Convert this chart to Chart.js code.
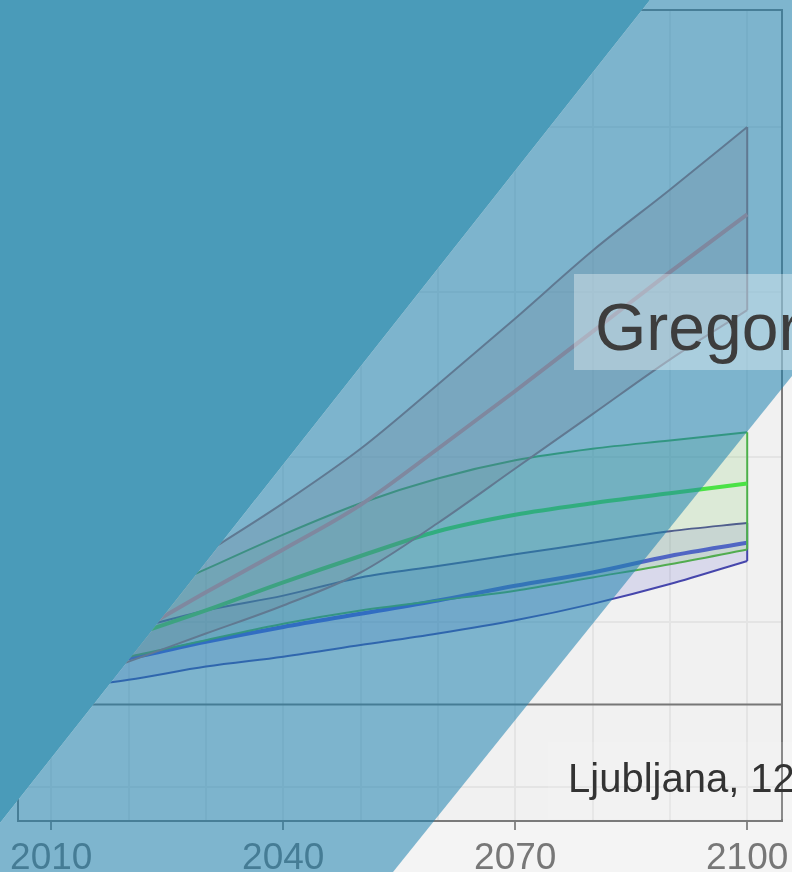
<!DOCTYPE html>
<html>
<head>
<meta charset="utf-8">
<script src="https://cdn.jsdelivr.net/npm/chart.js@4.4.1/dist/chart.umd.min.js"></script>
<style>
  html, body { margin: 0; padding: 0; background: #f4f4f4; }
  #wrap { position: relative; width: 792px; height: 872px; overflow: hidden; }
  #chart, #overlay { position: absolute; left: 0; top: 0; }
  #overlay { pointer-events: none; }
</style>
</head>
<body>
<div id="wrap">
  <canvas id="chart" width="792" height="872"></canvas>
  <svg id="overlay" width="792" height="872">
    <polygon points="650,0 792,0 792,376 393,872 0,872 0,823" fill="rgb(30,130,175)" fill-opacity="0.55"/>
    <polygon points="0,0 650,0 0,823" fill="#4a9bb9"/>
    <rect x="574" y="274" width="230" height="96" fill="#ffffff" fill-opacity="0.35"/>
    <text x="595" y="350" font-family="Liberation Sans, Arial, sans-serif" font-size="66" fill="#3d3d3d">Gregor</text>
    <rect x="548" y="742" width="250" height="77" fill="#ffffff" fill-opacity="0.12"/>
    <text x="568" y="792" font-family="Liberation Sans, Arial, sans-serif" font-size="40" fill="#333333">Ljubljana, 12</text>
  </svg>
</div>
<script>
// projection years and the three scenario envelopes (low / median / high)
const YEARS = [2010, 2020, 2030, 2040, 2050, 2060, 2070, 2080, 2090, 2100];

const RED_HI  = [0.90, 1.13, 1.42, 1.72, 2.05, 2.44, 2.84, 3.25, 3.62, 4.00];
const RED_MID = [0.74, 0.92, 1.18, 1.44, 1.71, 2.05, 2.40, 2.76, 3.12, 3.47];
const RED_LO  = [0.59, 0.76, 0.93, 1.10, 1.30, 1.60, 1.93, 2.26, 2.59, 2.89];

const GREEN_HI  = [0.89, 1.10, 1.32, 1.53, 1.72, 1.87, 1.98, 2.05, 2.10, 2.15];
const GREEN_MID = [0.74, 0.91, 1.07, 1.24, 1.40, 1.55, 1.65, 1.72, 1.78, 1.84];
const GREEN_LO  = [0.70, 0.79, 0.89, 0.99, 1.07, 1.13, 1.19, 1.27, 1.35, 1.44];

const BLUE_HI  = [0.83, 0.95, 1.07, 1.16, 1.27, 1.34, 1.41, 1.48, 1.55, 1.60];
const BLUE_MID = [0.70, 0.78, 0.88, 0.97, 1.05, 1.13, 1.22, 1.30, 1.40, 1.48];
const BLUE_LO  = [0.59, 0.65, 0.73, 0.79, 0.86, 0.93, 1.01, 1.11, 1.23, 1.37];

const X_LABELS = [2010, 2040, 2070, 2100];
const REF_LEVEL = 0.5;

function pts(arr) {
  return YEARS.map((yr, i) => ({ x: yr, y: arr[i] }));
}
// closing edge of a ribbon at the last year
function edge(hi, lo) {
  const n = YEARS.length - 1;
  return [{ x: YEARS[n], y: hi[n] }, { x: YEARS[n], y: lo[n] }];
}

function line(data, color, width, extra) {
  return Object.assign({
    data: data,
    borderColor: color,
    borderWidth: width,
    pointRadius: 0,
    tension: 0.35,
    cubicInterpolationMode: 'monotone',
    fill: false
  }, extra || {});
}

const datasets = [
  // 0..2 red envelope
  line(pts(RED_HI), '#b07070', 2, { fill: { target: 1 }, backgroundColor: 'rgba(205,110,95,0.2)' }),
  line(pts(RED_LO), '#b07070', 2),
  line(pts(RED_MID), '#ff9999', 4),
  line(edge(RED_HI, RED_LO), '#b07070', 2, { tension: 0 }),
  // 4..6 green envelope
  line(pts(GREEN_HI), '#4cb04c', 2, { fill: { target: 5 }, backgroundColor: 'rgba(110,200,80,0.16)' }),
  line(pts(GREEN_LO), '#50aa50', 2),
  line(pts(GREEN_MID), '#44e844', 4),
  line(edge(GREEN_HI, GREEN_LO), '#4cb04c', 2, { tension: 0 }),
  // 8..10 blue envelope
  line(pts(BLUE_HI), '#4a4a99', 2, { fill: { target: 9 }, backgroundColor: 'rgba(80,80,200,0.15)' }),
  line(pts(BLUE_LO), '#4646aa', 2),
  line(pts(BLUE_MID), '#4a55dd', 4),
  line(edge(BLUE_HI, BLUE_LO), '#4646aa', 2, { tension: 0 })
];

const panel = {
  id: 'panel',
  beforeDraw(chart) {
    const a = chart.chartArea, ctx = chart.ctx;
    ctx.save();
    ctx.fillStyle = '#f1f1f1';
    ctx.fillRect(a.left, a.top, a.right - a.left, a.bottom - a.top);
    ctx.restore();
  },
  beforeDatasetsDraw(chart) {
    const a = chart.chartArea, ctx = chart.ctx;
    const y = chart.scales.y.getPixelForValue(REF_LEVEL);
    ctx.save();
    ctx.strokeStyle = '#777777';
    ctx.lineWidth = 2;
    ctx.beginPath();
    ctx.moveTo(a.left, y);
    ctx.lineTo(a.right, y);
    ctx.stroke();
    ctx.restore();
  },
  afterDraw(chart) {
    const a = chart.chartArea, ctx = chart.ctx;
    ctx.save();
    ctx.strokeStyle = '#7a7a7a';
    ctx.lineWidth = 2;
    ctx.strokeRect(a.left, a.top, a.right - a.left, a.bottom - a.top);
    ctx.restore();
  }
};

new Chart(document.getElementById('chart'), {
  type: 'line',
  data: { datasets: datasets },
  options: {
    responsive: false,
    animation: false,
    layout: { padding: { left: 18, right: 10, top: 10, bottom: 0 } },
    plugins: { legend: { display: false }, tooltip: { enabled: false } },
    scales: {
      x: {
        type: 'linear',
        min: 2005.7,
        max: 2104.5,
        border: { display: false },
        afterFit: s => {
          s.height = 51;
          s.paddingLeft = 0;
          s.paddingRight = 0;
        },
        grid: {
          color: '#e4e4e4',
          lineWidth: 2,
          tickLength: 9,
          tickWidth: 2,
          tickColor: c => X_LABELS.includes(c.tick.value) ? '#8a8a8a' : 'rgba(0,0,0,0)'
        },
        ticks: {
          stepSize: 10,
          includeBounds: false,
          autoSkip: false,
          maxRotation: 0,
          padding: 7,
          color: '#777777',
          font: { family: 'Liberation Sans, Arial, sans-serif', size: 37 },
          callback: v => X_LABELS.includes(v) ? String(v) : ''
        }
      },
      y: {
        min: -0.206,
        max: 4.709,
        border: { display: false },
        grid: { color: '#e4e4e4', lineWidth: 2, drawTicks: false },
        ticks: { display: false, stepSize: 1, includeBounds: false }
      }
    }
  },
  plugins: [panel]
});
</script>
</body>
</html>
